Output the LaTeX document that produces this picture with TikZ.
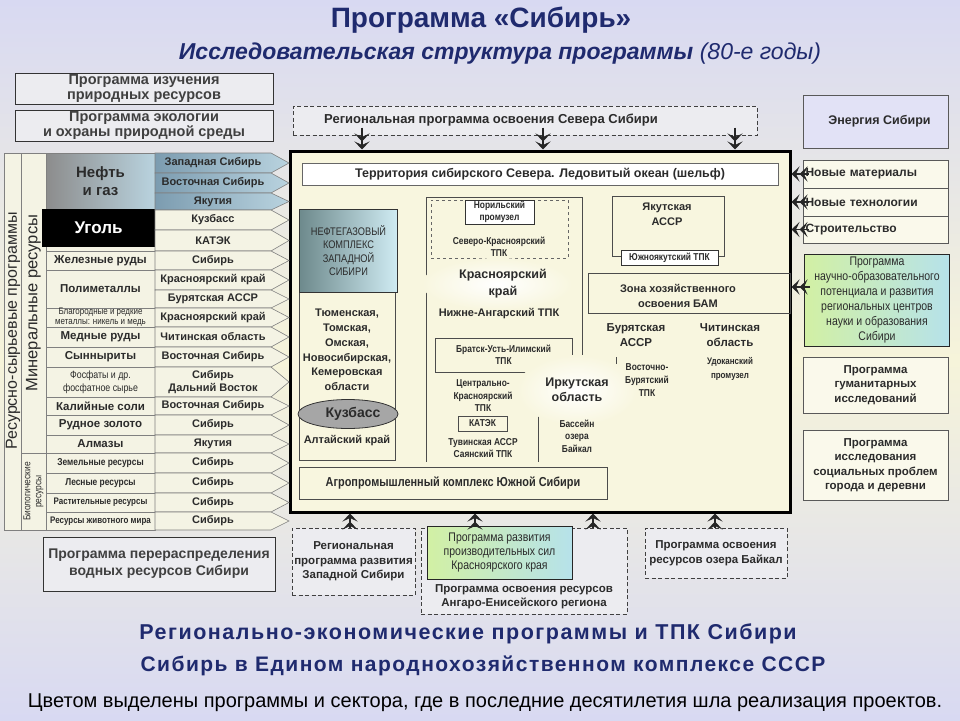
\documentclass[tikz,border=0pt]{standalone}
\usepackage{fontspec}
\setmainfont{Liberation Sans}
\newfontfamily\condfont[FakeStretch=0.84]{Liberation Sans}
\newfontfamily\spacedfont[LetterSpace=7]{Liberation Sans}
\usetikzlibrary{shapes.geometric,arrows.meta,positioning}

\definecolor{navy}{HTML}{1F2A6E}
\definecolor{ink}{HTML}{2B2B2B}
\definecolor{lav}{HTML}{D8D9F2}
\definecolor{creambg}{HTML}{F6F4DA}
\definecolor{cellfill}{HTML}{F4F3E4}
\definecolor{boxgray}{HTML}{ECECF0}
\definecolor{mainfill}{HTML}{F8F6DF}
\definecolor{steel}{HTML}{7C9CB0}
\definecolor{steellight}{HTML}{B9D3DF}
\definecolor{slate}{HTML}{6E8A8C}
\definecolor{icecyan}{HTML}{CFECF3}
\definecolor{seablue}{HTML}{3F93D4}
\definecolor{lime}{HTML}{D2F0A4}
\definecolor{aqua}{HTML}{B6E2EA}
\definecolor{energyfill}{HTML}{E2E2F6}

\newcommand{\fsz}[2]{\fontsize{#1}{#2}\selectfont}

\begin{document}
\begin{tikzpicture}[x=1pt, y=-1pt]
  \tikzstyle{arrow} = [line width=1.6pt, draw=black!85, -{Stealth[length=8pt,width=15pt,inset=3.5pt]Stealth[length=8pt,width=15pt,inset=3.5pt]}]
  \tikzstyle{cell} = [draw=black!50, fill=cellfill, line width=0.6pt, inner sep=0pt, align=center, text=ink]
  \tikzstyle{regtext} = [inner sep=0pt, align=center, text=ink, font=\fsz{11}{13}\bfseries]
  \tikzstyle{progbox} = [draw=black!80, fill=boxgray, line width=1pt, inner sep=0pt, align=center, text=ink!90, font=\fsz{14.5}{15}\bfseries]
  \tikzstyle{dashbox} = [draw=black!75, dash pattern=on 4pt off 2.5pt, fill=boxgray, line width=1pt, inner sep=0pt, align=center, text=ink, font=\fsz{11.5}{14.5}\bfseries]
  \tikzstyle{thinbox} = [draw=black!70, line width=0.7pt, inner sep=0pt]
  \tikzstyle{lbl} = [inner sep=0pt, align=center, text=ink, font=\fsz{11}{14.5}\bfseries]
  \tikzstyle{smalltxt} = [inner sep=0pt, align=center, text=ink, font=\condfont\fsz{10}{12.5}\bfseries]
  \tikzstyle{rbox} = [draw=black!65, fill=white!45!creambg, line width=0.8pt, inner sep=0pt, align=center, text=ink, font=\fsz{11.5}{14.5}\bfseries, minimum width=145]
  \tikzstyle{heading} = [inner sep=0pt, text=navy, font=\spacedfont\fsz{21}{24}\bfseries]

  \useasboundingbox (0,0) rectangle (960,720);
  \shade[top color=lav, bottom color=lav, middle color=creambg] (0,0) rectangle (960,720);

  % titles
  \node[heading, font=\fsz{28}{32}\bfseries] (title) at (481,20) {Программа «Сибирь»};
  \node[heading, font=\fsz{23}{26}\bfseries\itshape] (subtitle) at (500,54) {Исследовательская структура программы \textmd{(80-е годы)}};

  % left programs
  \node[progbox, minimum width=258, minimum height=31] (study) at (144,88.5) {Программа изучения\\природных ресурсов};
  \node[progbox, minimum width=258, minimum height=31] (ecology) at (144,125.5) {Программа экологии\\и охраны природной среды};
  \node[progbox, minimum width=232, minimum height=54, font=\fsz{14}{17}\bfseries] (water) at (159,564) {Программа перераспределения\\водных ресурсов Сибири};

  % main block
  \node[draw=black, line width=3pt, fill=mainfill, minimum width=500, minimum height=361] (main) at (540,331.5) {};
  \node[dashbox, minimum width=464, minimum height=29] (north) at (525,120.5) {};
  \node[lbl, font=\fsz{13}{15}\bfseries] (north-txt) at (491,120) {Региональная программа освоения Севера Сибири};
  \node[draw=black!60, line width=0.8pt, minimum width=476, minimum height=22, left color=white, middle color=seablue, right color=white, font=\fsz{12.5}{14}\bfseries, text=ink] (shelf) at (540,174) {Территория сибирского Севера. Ледовитый океан (шельф)};

  % west siberia
  \node[thinbox, minimum width=96, minimum height=251] (westcol) at (347,334.5) {};
  \node[draw=black!80, line width=0.8pt, minimum width=98, minimum height=83, left color=slate, right color=icecyan, inner sep=0pt, align=center, text=ink, font=\condfont\fsz{11}{13.5}] (neftegaz) at (348.5,250.5) {НЕФТЕГАЗОВЫЙ\\КОМПЛЕКС\\ЗАПАДНОЙ\\СИБИРИ};
  \node[lbl, font=\fsz{11}{14.8}\bfseries] (oblasti) at (347,350) {Тюменская,\\Томская,\\Омская,\\Новосибирская,\\Кемеровская\\области};
  \node[ellipse, draw=black!80, fill=black!35, line width=0.8pt, minimum width=100, minimum height=29, inner sep=0pt, text=ink, font=\fsz{14}{16}\bfseries] (kuzbass) at (348,414) {\hspace*{10pt}Кузбасс};
  \node[lbl] (altai) at (347,441) {Алтайский край};

  % krasnoyarsk
  \draw[black!70, line width=0.8pt] (582,360) -- (582,197) -- (426,197) -- (426,462);
  \draw[black!70, line width=0.8pt] (538,410) -- (538,462);
  \node[draw=black!60, dashed, minimum width=137, minimum height=58, inner sep=0pt] (sevkras) at (499.5,229) {};
  \node[draw=black!80, fill=white, minimum width=69, minimum height=24, inner sep=0pt, align=center, text=ink, font=\condfont\fsz{10}{11.5}\bfseries] (norilsk) at (499.5,212) {Норильский\\промузел};
  \node[smalltxt] (sevkras-txt) at (499,247) {Северо-Красноярский\\ТПК};
  \node[ellipse, minimum width=150, minimum height=52, inner color=white, outer color=mainfill] (kras-glow) at (497,284) {};
  \node[lbl, font=\fsz{12.5}{17}\bfseries] (kras) at (503,284) {Красноярский\\край};
  \node[lbl] (nizhang) at (499,314) {Нижне-Ангарский ТПК};
  \node[thinbox, minimum width=137, minimum height=34, align=center, text=ink, font=\condfont\fsz{10}{12.5}\bfseries] (bratsk) at (503.5,355) {Братск-Усть-Илимский\\ТПК};
  \node[smalltxt] (centrkras) at (483,396) {Центрально-\\Красноярский\\ТПК};
  \node[thinbox, minimum width=49, minimum height=15, text=ink, font=\condfont\fsz{10}{12}\bfseries] (katek) at (482.5,423.5) {КАТЭК};
  \node[smalltxt] (tuva) at (483,448) {Тувинская АССР\\Саянский ТПК};

  % irkutsk
  \node[ellipse, minimum width=120, minimum height=70, inner color=white, outer color=mainfill] (irk-glow) at (577,390) {};
  \node[lbl, font=\fsz{12.5}{15}\bfseries] (irk) at (577,390) {Иркутская\\область};
  \node[smalltxt] (baikal-txt) at (577,436) {Бассейн\\озера\\Байкал};

  % east
  \node[thinbox, minimum width=112, minimum height=60] (yakut) at (668,226) {};
  \node[lbl, font=\fsz{11}{15}\bfseries] (yakut-txt) at (667,214.5) {Якутская\\АССР};
  \node[draw=black!80, fill=white, minimum width=97, minimum height=15, inner sep=0pt, text=ink, font=\condfont\fsz{10}{12}\bfseries] (syakut) at (669.5,257.5) {Южноякутский ТПК};
  \node[thinbox, minimum width=202, minimum height=40] (bam) at (689,293) {};
  \node[lbl, font=\fsz{11}{15}\bfseries] (bam-txt) at (678,295.5) {Зона хозяйственного\\освоения БАМ};
  \node[lbl, font=\fsz{11.5}{15}\bfseries] (buryat) at (636,335.5) {Бурятская\\АССР};
  \node[lbl, font=\fsz{11.5}{15}\bfseries] (chita) at (730,335.5) {Читинская\\область};
  \draw[black!70, line width=0.7pt] (616,357) -- (616,364);
  \node[smalltxt, font=\condfont\fsz{10}{13}\bfseries] (vostbur) at (647,380) {Восточно-\\Бурятский\\ТПК};
  \node[smalltxt, font=\condfont\fsz{9.5}{14}\bfseries] (udokan) at (730,369) {Удоканский\\промузел};
  \node[thinbox, fill=mainfill, minimum width=308, minimum height=32, text=ink, font=\condfont\fsz{13}{15}\bfseries] (agro) at (453,483) {Агропромышленный комплекс Южной Сибири};

  % resource table
  \node[cell, minimum width=17, minimum height=377] (progcol) at (12.5,341.5) {};
  \node[rotate=90, inner sep=0pt, text=ink, font=\fsz{16}{18}] (progcol-txt) at (13,331) {Ресурсно-сырьевые программы};
  \node[cell, rotate=90, minimum width=300, minimum height=25, font=\fsz{16.5}{18}] (mincol) at (33.5,303) {Минеральные ресурсы};
  \node[cell, rotate=90, minimum width=77, minimum height=25, font=\condfont\fsz{10}{11}] (biocol) at (33.5,491.5) {Биологические\\ресурсы};

  \node[cell, left color=black!45, right color=steellight, minimum width=109, minimum height=57, font=\fsz{15}{18}\bfseries] (oilgas) at (100.5,181.5) {Нефть\\и газ};
  \node[cell, minimum width=109, minimum height=41] (coalrow) at (100.5,230.5) {};
  \foreach \t/\b/\fnt/\txt [count=\i] in {
      251/270/{\fsz{11.5}{13}\bfseries}/{Железные руды},
      270/308/{\fsz{11.5}{13}\bfseries}/{Полиметаллы},
      308/327/{\condfont\fsz{9.5}{10}}/{Благородные и редкие\\металлы: никель и медь},
      327/347/{\fsz{11.5}{13}\bfseries}/{Медные руды},
      347/367/{\fsz{11.5}{13}\bfseries}/{Сынныриты},
      367/397/{\condfont\fsz{10.5}{13}}/{Фосфаты и др.\\фосфатное сырье},
      397/415/{\fsz{11.5}{13}\bfseries}/{Калийные соли},
      415/435/{\fsz{11.5}{13}\bfseries}/{Рудное золото},
      435/453/{\fsz{11.5}{13}\bfseries}/{Алмазы},
      453/473/{\condfont\fsz{10}{12}\bfseries}/{Земельные ресурсы},
      473/493/{\condfont\fsz{10}{12}\bfseries}/{Лесные ресурсы},
      493/512/{\condfont\fsz{9.5}{12}\bfseries}/{Растительные ресурсы},
      512/530/{\condfont\fsz{9.5}{12}\bfseries}/{Ресурсы животного мира}}
  {
    \node[cell, font=\fnt, minimum width=109, minimum height=\b-\t] (res-\i) at (100.5,{(\t+\b)/2}) {\txt};
  }
  \node[fill=black, text=white, inner sep=0pt, minimum width=113, minimum height=38, font=\fsz{17}{20}\bfseries] (coal) at (98.5,228) {Уголь};

  \foreach \t/\b/\txt [count=\i] in {153/173/{Западная Сибирь}, 173/193/{Восточная Сибирь}, 193/210/{Якутия}}
  {
    \draw[cell, left color=steel, right color=steellight] (155,\t) -- (271,\t) -- (289,{(\t+\b)/2}) -- (271,\b) -- (155,\b) -- cycle;
    \node[regtext] (oilreg-\i) at (213,{(\t+\b)/2}) {\txt};
  }
  \foreach \t/\b/\txt [count=\i] in {
      210/230/{Кузбасс}, 230/251/{КАТЭК}, 251/270/{Сибирь},
      270/290/{Красноярский край}, 290/308/{Бурятская АССР},
      308/327/{Красноярский край}, 327/347/{Читинская область},
      347/367/{Восточная Сибирь}, 367/397/{Сибирь\\Дальний Восток},
      397/415/{Восточная Сибирь}, 415/435/{Сибирь}, 435/453/{Якутия},
      453/473/{Сибирь}, 473/493/{Сибирь}, 493/512/{Сибирь}, 512/530/{Сибирь}}
  {
    \draw[cell] (155,\t) -- (271,\t) -- (289,{(\t+\b)/2}) -- (271,\b) -- (155,\b) -- cycle;
    \node[regtext] (reg-\i) at (213,{(\t+\b)/2}) {\txt};
  }

  % right programs
  \node[rbox, fill=energyfill, minimum height=53, font=\fsz{12.5}{14}\bfseries] (energy) at (875.5,121.5) {\hspace*{8pt}Энергия Сибири};
  \node[rbox, minimum height=28, font=\fsz{12}{14}\bfseries, align=left, text width=140] (newmat) at (875.5,174) {Новые материалы};
  \node[rbox, minimum height=28, font=\fsz{12}{14}\bfseries, align=left, text width=140] (newtech) at (875.5,202) {Новые технологии};
  \node[rbox, minimum height=27, font=\fsz{12}{14}\bfseries, align=left, text width=140] (build) at (875.5,229.5) {Строительство};
  \node[rbox, draw=black!85, left color=lime, right color=aqua, minimum height=92, font=\condfont\fsz{12.5}{15}] (sciprog) at (877,300) {Программа\\научно-образовательного\\потенциала и развития\\региональных центров\\науки и образования\\Сибири};
  \node[rbox, minimum height=56] (human) at (875.5,385) {Программа\\гуманитарных\\исследований};
  \node[rbox, minimum height=70] (social) at (875.5,465) {Программа\\исследования\\социальных проблем\\города и деревни};

  % bottom programs
  \node[dashbox, minimum width=123, minimum height=67] (westprog) at (353.5,561.5) {Региональная\\программа развития\\Западной Сибири};
  \node[dashbox, minimum width=206, minimum height=86] (angaro) at (524,571) {};
  \node[lbl, font=\fsz{11.5}{14}\bfseries] (angaro-txt) at (524,597) {Программа освоения ресурсов\\Ангаро-Енисейского региона};
  \node[draw=black!85, line width=1pt, left color=lime, right color=aqua, minimum width=145, minimum height=53, inner sep=0pt, align=center, text=ink, font=\condfont\fsz{12.5}{14}] (kraskrai) at (499.5,552.5) {Программа развития\\производительных сил\\Красноярского края};
  \node[dashbox, minimum width=142, minimum height=50] (baikal) at (716,553) {Программа освоения\\ресурсов озера Байкал};

  % arrows
  \foreach \xx in {362,543,735}
    \draw[arrow, shorten <=-8pt] (north.south -| \xx,0) -- (main.north -| \xx,0);
  \foreach \nm in {newmat, newtech, build}
    \draw[arrow, shorten <=-6pt] (\nm.west) -- (\nm.west -| main.east);
  \draw[arrow, shorten <=-6pt] ([yshift=13pt]sciprog.west) -- ([yshift=13pt]sciprog.west -| main.east);
  \draw[arrow] (westprog.north -| 350,0) -- (main.south -| 350,0);
  \draw[arrow] (kraskrai.north -| 475,0) -- (main.south -| 475,0);
  \draw[arrow] (angaro.north -| 593,0) -- (main.south -| 593,0);
  \draw[arrow] (baikal.north -| 715,0) -- (main.south -| 715,0);

  % bottom captions
  \node[heading, font=\spacedfont\fsz{21.5}{24}\bfseries] (cap1) at (468,634) {Регионально-экономические программы и ТПК Сибири};
  \node[heading] (cap2) at (483,666) {Сибирь в Едином народнохозяйственном комплексе СССР};
  \node[inner sep=0pt, text=black, font=\fsz{20}{22}] (note) at (485,703) {Цветом выделены программы и сектора, где в последние десятилетия шла реализация проектов.};
\end{tikzpicture}
\end{document}
